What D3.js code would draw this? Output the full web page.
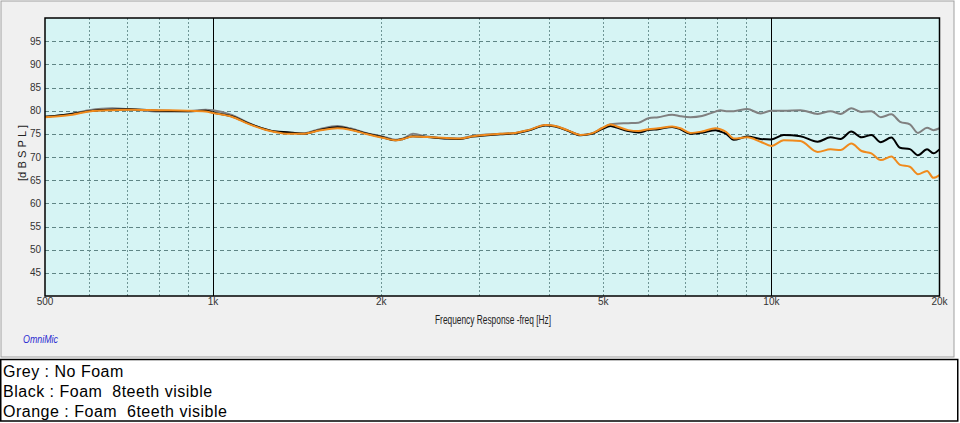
<!DOCTYPE html>
<html>
<head>
<meta charset="utf-8">
<script src="https://cdn.jsdelivr.net/npm/d3@7"></script>
<style>
  html, body { margin: 0; padding: 0; background: #ffffff; }
  svg { display: block; }
  .legend-text { white-space: pre; }
</style>
</head>
<body>
<div id="chart"></div>
<script>
// frequency (Hz) sample points shared by all three measurements
const freqs = [
  500, 550, 600, 660, 710, 800, 900, 970, 1000, 1080, 1160, 1240, 1290, 1370, 1450,
  1550, 1670, 1760, 1890, 2020, 2120, 2190, 2280, 2420, 2620, 2770, 2920, 3270, 3480,
  3670, 3940, 4100, 4330, 4550, 4770, 4970, 5150, 5260, 5540, 5780, 6020, 6270, 6640,
  6870, 7160, 7510, 7940, 8100, 8300, 8560, 9050, 9560, 10000, 10520, 11270, 12100,
  12760, 13300, 13900, 14500, 15100, 15700, 16400, 17000, 17700, 18300, 19000, 19500, 20000,
];

const greyDb = [
  78.7, 79.2, 80.1, 80.5, 80.3, 79.8, 79.9, 80.2, 80.1, 79.1, 77.3, 76.0, 75.5, 75.25, 75.1,
  76.0, 76.7, 76.2, 75.1, 74.4, 73.7, 74.0, 75.0, 74.4, 74.0, 74.0, 74.6, 75.0, 75.2,
  75.8, 76.9, 76.7, 75.7, 74.75, 75.1, 76.2, 77.05, 77.2, 77.3, 77.4, 78.35, 78.6, 79.1,
  78.8, 78.6, 78.85, 79.8, 80.1, 79.9, 79.9, 80.35, 79.4, 80.0, 80.0, 80.1, 79.3,
  79.9, 79.3, 80.5, 79.7, 79.9, 78.6, 79.2, 77.6, 77.05, 75.2, 76.3, 75.8, 76.2,
];

const blackDb = [
  78.7, 79.2, 79.9, 80.2, 80.3, 80.0, 79.9, 80.0, 79.6, 78.8, 77.2, 76.0, 75.5, 75.3, 75.0,
  75.8, 76.4, 76.0, 75.0, 74.2, 73.6, 73.9, 74.5, 74.3, 74.0, 73.9, 74.4, 74.9, 75.1,
  75.7, 76.8, 76.6, 75.6, 74.7, 75.0, 76.0, 76.7, 76.4, 75.6, 75.3, 75.8, 76.0, 76.5,
  76.0, 75.0, 75.25, 75.8, 75.5, 75.0, 73.7, 74.4, 73.9, 73.8, 74.75, 74.5, 73.3,
  74.25, 73.9, 75.5, 74.25, 74.75, 73.2, 74.2, 72.0, 71.7, 70.4, 71.65, 70.8, 71.65,
];

const orangeDb = [
  78.6, 79.0, 79.8, 80.1, 80.2, 80.1, 80.0, 79.8, 79.5, 78.7, 77.1, 75.9, 75.4, 75.0, 75.0,
  75.7, 76.2, 75.9, 74.9, 74.1, 73.6, 73.9, 74.4, 74.3, 74.1, 74.0, 74.5, 75.0, 75.2,
  75.8, 76.9, 76.7, 75.7, 74.75, 75.1, 76.2, 77.0, 76.7, 75.8, 75.6, 76.0, 76.2, 76.6,
  76.2, 75.2, 75.5, 76.2, 76.0, 75.4, 74.0, 74.25, 73.3, 72.4, 73.6, 73.45, 71.1,
  71.65, 71.5, 72.9, 71.3, 70.8, 69.35, 70.1, 68.3, 67.9, 66.3, 67.0, 65.5, 66.1,
];

const yTicks = [45, 50, 55, 60, 65, 70, 75, 80, 85, 90, 95];
const xTickValues = [500, 1000, 2000, 5000, 10000, 20000];
const xTickLabels = ["500", "1k", "2k", "5k", "10k", "20k"];
const minorGrid = [600, 700, 800, 900, 2000, 3000, 4000, 5000, 6000, 7000, 8000, 9000];
const majorGrid = [1000, 10000];

const legendLines = [
  "Grey : No Foam",
  "Black : Foam  8teeth visible",
  "Orange : Foam  6teeth visible",
];

const series = [
  { name: "grey", values: greyDb, color: "#808080" },
  { name: "black", values: blackDb, color: "#000000" },
  { name: "orange", values: orangeDb, color: "#f08a1c" },
];

const width = 960;
const height = 423;
const plot = { left: 45, right: 939.5, top: 18, bottom: 296 };
const narrowFont = "'Liberation Sans Narrow', 'Arial Narrow', 'Liberation Sans', sans-serif";

const svg = d3
  .select("#chart")
  .append("svg")
  .attr("width", width)
  .attr("height", height);

// outer panel
svg
  .append("rect")
  .attr("x", 1)
  .attr("y", 1)
  .attr("width", 953)
  .attr("height", 356)
  .attr("fill", "#f0f0f0")
  .attr("stroke", "#a0a0a0")
  .attr("stroke-width", 1);

const x = d3.scaleLog().domain([500, 20000]).range([plot.left, plot.right]);
const y = d3.scaleLinear().domain([40, 100]).range([plot.bottom, plot.top]);

svg
  .append("rect")
  .attr("x", plot.left)
  .attr("y", plot.top)
  .attr("width", plot.right - plot.left)
  .attr("height", plot.bottom - plot.top)
  .attr("fill", "#d6f4f4");

const grid = svg.append("g");

grid
  .selectAll("line.h")
  .data(yTicks)
  .join("line")
  .attr("class", "h")
  .attr("x1", plot.left)
  .attr("x2", plot.right)
  .attr("y1", (d) => Math.round(y(d)) + 0.5)
  .attr("y2", (d) => Math.round(y(d)) + 0.5)
  .attr("stroke", "#5f8585")
  .attr("stroke-width", 1)
  .attr("stroke-dasharray", "4,3");

grid
  .selectAll("line.v")
  .data(minorGrid)
  .join("line")
  .attr("class", "v")
  .attr("x1", (d) => Math.round(x(d)) + 0.5)
  .attr("x2", (d) => Math.round(x(d)) + 0.5)
  .attr("y1", plot.top)
  .attr("y2", plot.bottom)
  .attr("stroke", "#6f9595")
  .attr("stroke-width", 1)
  .attr("stroke-dasharray", "2,2");

grid
  .selectAll("line.major")
  .data(majorGrid)
  .join("line")
  .attr("class", "major")
  .attr("x1", (d) => Math.round(x(d)) + 0.5)
  .attr("x2", (d) => Math.round(x(d)) + 0.5)
  .attr("y1", plot.top)
  .attr("y2", plot.bottom)
  .attr("stroke", "#000000")
  .attr("stroke-width", 1);

const line = d3
  .line()
  .x((d) => x(d[0]))
  .y((d) => y(d[1]))
  .curve(d3.curveMonotoneX);

svg
  .append("g")
  .selectAll("path")
  .data(series)
  .join("path")
  .attr("d", (s) => line(freqs.map((f, i) => [f, s.values[i]])))
  .attr("fill", "none")
  .attr("stroke", (s) => s.color)
  .attr("stroke-width", 2)
  .attr("stroke-linejoin", "round");

// plot frame
svg
  .append("rect")
  .attr("x", plot.left)
  .attr("y", plot.top)
  .attr("width", plot.right - plot.left)
  .attr("height", plot.bottom - plot.top)
  .attr("fill", "none")
  .attr("stroke", "#000000")
  .attr("stroke-width", 1.5);

// y tick labels
svg
  .append("g")
  .selectAll("text")
  .data(yTicks)
  .join("text")
  .attr("x", 41)
  .attr("y", (d) => y(d) + 3.5)
  .attr("text-anchor", "end")
  .attr("font-family", narrowFont)
  .attr("font-size", 10)
  .attr("fill", "#333333")
  .text((d) => d);

// x tick labels
svg
  .append("g")
  .selectAll("text")
  .data(xTickValues)
  .join("text")
  .attr("x", (d) => x(d))
  .attr("y", 305)
  .attr("text-anchor", "middle")
  .attr("font-family", narrowFont)
  .attr("font-size", 10)
  .attr("fill", "#333333")
  .text((d, i) => xTickLabels[i]);

svg
  .append("text")
  .attr("x", 435)
  .attr("y", 324)
  .attr("font-family", narrowFont)
  .attr("font-size", 12)
  .attr("fill", "#222222")
  .attr("textLength", 116)
  .attr("lengthAdjust", "spacingAndGlyphs")
  .text("Frequency Response -freq [Hz]");

svg
  .append("text")
  .attr("transform", "translate(26,181) rotate(-90)")
  .attr("font-family", narrowFont)
  .attr("font-size", 10)
  .attr("fill", "#222222")
  .attr("textLength", 56)
  .attr("lengthAdjust", "spacingAndGlyphs")
  .text("[d B S P L ]");

svg
  .append("text")
  .attr("x", 23)
  .attr("y", 343)
  .attr("font-family", narrowFont)
  .attr("font-size", 11)
  .attr("font-style", "italic")
  .attr("fill", "#2a2ad0")
  .attr("textLength", 35)
  .attr("lengthAdjust", "spacingAndGlyphs")
  .text("OmniMic");

// legend box
svg
  .append("rect")
  .attr("x", 0.75)
  .attr("y", 359.5)
  .attr("width", 957)
  .attr("height", 61.5)
  .attr("fill", "#ffffff")
  .attr("stroke", "#000000")
  .attr("stroke-width", 1.5);

svg
  .append("g")
  .selectAll("text")
  .data(legendLines)
  .join("text")
  .attr("class", "legend-text")
  .attr("x", 3)
  .attr("y", (d, i) => 377 + i * 20)
  .attr("font-family", "'Liberation Sans', Arial, sans-serif")
  .attr("font-size", 16)
  .attr("letter-spacing", 0.5)
  .attr("fill", "#000000")
  .text((d) => d);
</script>
</body>
</html>
